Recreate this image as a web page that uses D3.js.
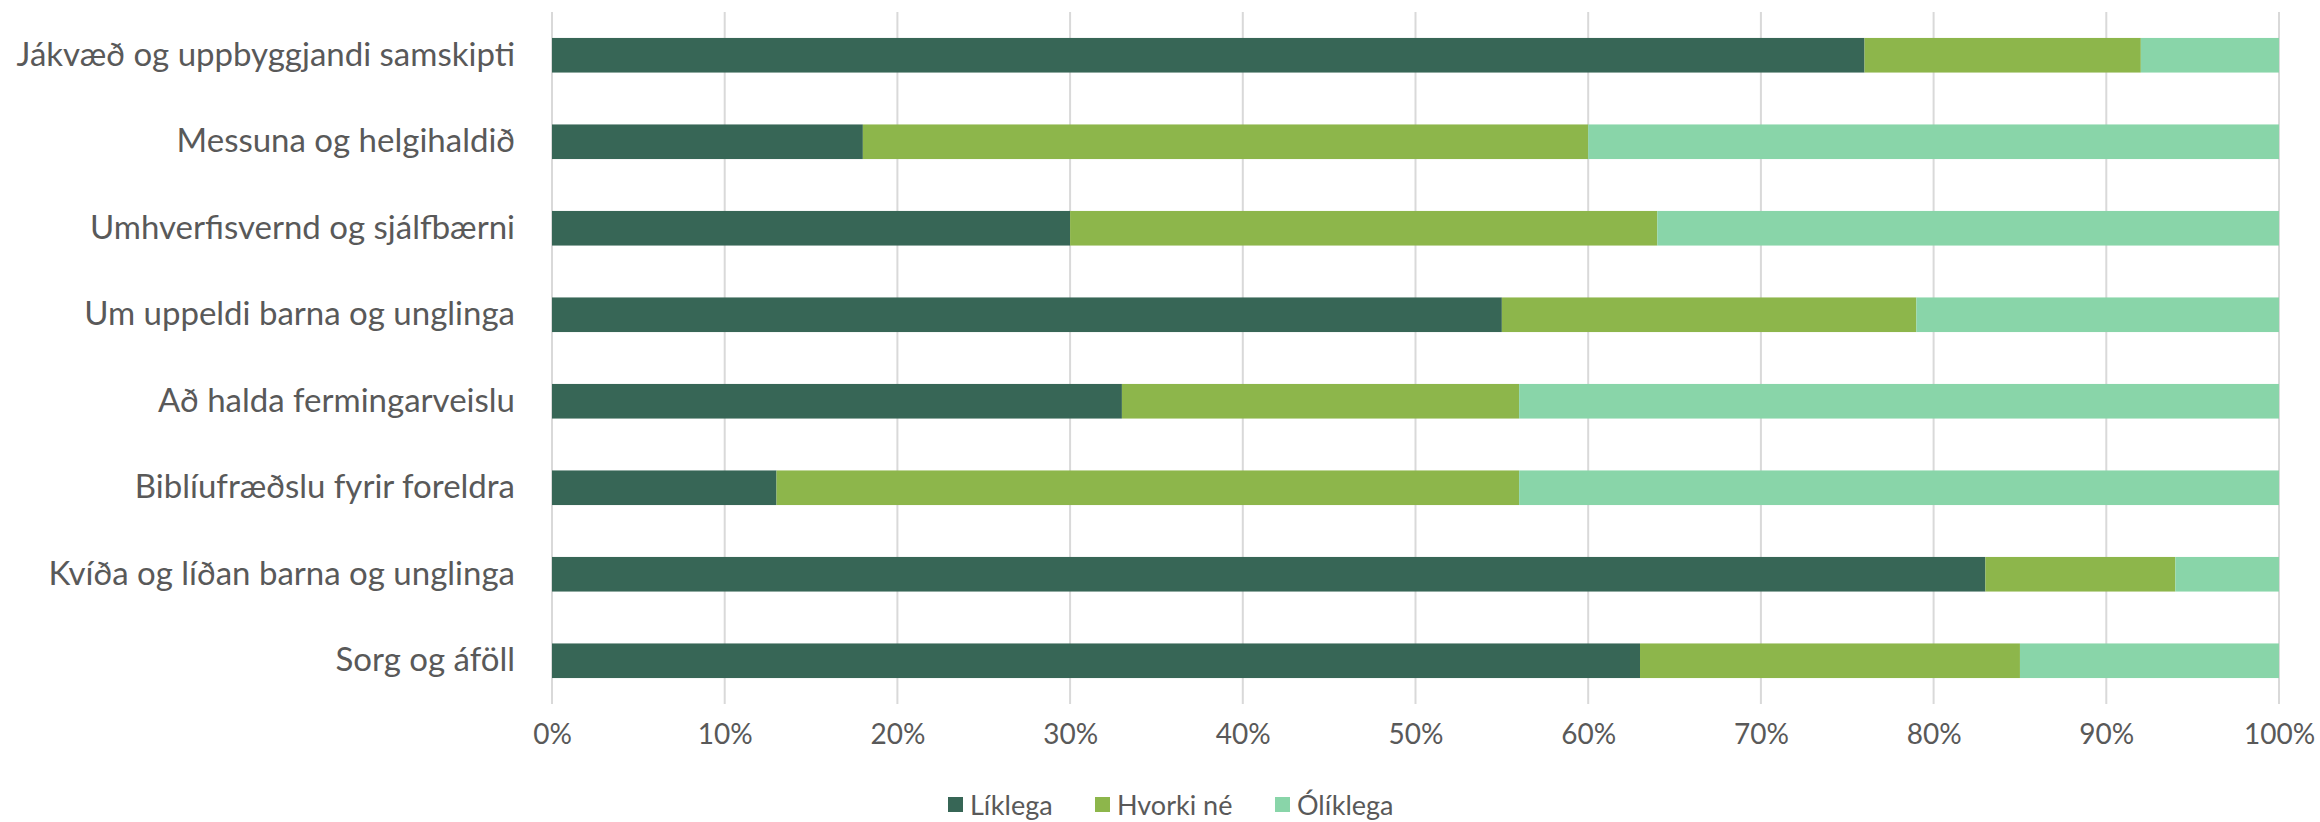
<!DOCTYPE html>
<html>
<head>
<meta charset="utf-8">
<script src="https://cdn.jsdelivr.net/npm/d3@7"></script>
<style>
  body { margin: 0; background: #fff; }
  text { font-family: "Lato", "Open Sans", sans-serif; fill: #595959; }
</style>
</head>
<body>
<div id="chart"></div>
<script>
// Categories, top to bottom
const categories = [
    "Jákvæð og uppbyggjandi samskipti",
    "Messuna og helgihaldið",
    "Umhverfisvernd og sjálfbærni",
    "Um uppeldi barna og unglinga",
    "Að halda fermingarveislu",
    "Biblíufræðslu fyrir foreldra",
    "Kvíða og líðan barna og unglinga",
    "Sorg og áföll"
];

// Series values (percent)
const liklega  = [76, 18, 30, 55, 33, 13, 83, 63];
const hvorki   = [16, 42, 34, 24, 23, 43, 11, 22];
const olikleg  = [ 8, 40, 36, 21, 44, 44,  6, 15];

const seriesNames = ["Líklega", "Hvorki né", "Ólíklega"];
const seriesColors = ["#376656", "#8db64b", "#89d5a9"];

const xTicks = [0, 10, 20, 30, 40, 50, 60, 70, 80, 90, 100];

// Build rows for d3.stack
const rows = categories.map((c, i) => ({
    cat: c,
    "Líklega": liklega[i],
    "Hvorki né": hvorki[i],
    "Ólíklega": olikleg[i]
}));

const W = 2320, H = 822;
const margin = { top: 12, right: 41, bottom: 118, left: 552 },
    width = W - margin.left - margin.right,
    height = H - margin.top - margin.bottom;

const svg = d3.select("#chart")
    .append("svg")
    .attr("width", W)
    .attr("height", H)
    .append("g")
    .attr("transform", `translate(${margin.left},${margin.top})`);

const x = d3.scaleLinear().domain([0, 100]).range([0, width]);

const y = d3.scaleBand()
    .domain(categories)
    .range([0, height])
    .paddingInner(0.6)
    .paddingOuter(0.3);

// Gridlines
svg.append("g")
    .selectAll("line")
    .data(xTicks)
    .enter()
    .append("line")
    .attr("x1", d => x(d))
    .attr("x2", d => x(d))
    .attr("y1", 0)
    .attr("y2", height)
    .attr("stroke", "#d9d9d9")
    .attr("stroke-width", 2);

// Stacked bars
const stacked = d3.stack().keys(seriesNames)(rows);

svg.selectAll(".series")
    .data(stacked)
    .enter()
    .append("g")
    .attr("fill", (d, i) => seriesColors[i])
    .selectAll("rect")
    .data(d => d)
    .enter()
    .append("rect")
    .attr("x", d => x(d[0]))
    .attr("y", d => y(d.data.cat))
    .attr("width", d => x(d[1]) - x(d[0]))
    .attr("height", y.bandwidth());

// Y axis labels
const yAxis = svg.append("g")
    .call(d3.axisLeft(y).tickSize(0).tickPadding(37));
yAxis.select(".domain").remove();
yAxis.selectAll("text")
    .style("font-size", "33px")
    .style("font-family", "Lato, sans-serif")
    .attr("fill", "#595959");

// X axis labels
const xAxis = svg.append("g")
    .attr("transform", `translate(0,${height})`)
    .call(d3.axisBottom(x).tickValues(xTicks).tickFormat(d => d + "%").tickSize(0).tickPadding(20));
xAxis.select(".domain").remove();
xAxis.selectAll("text")
    .style("font-size", "28px")
    .style("font-family", "Lato, sans-serif")
    .attr("fill", "#595959");

// Legend
const legendX = [948, 1095, 1275];
const legend = d3.select("svg").append("g");
seriesNames.forEach((name, i) => {
    legend.append("rect")
        .attr("x", legendX[i])
        .attr("y", 797)
        .attr("width", 15)
        .attr("height", 15)
        .attr("fill", seriesColors[i]);
    legend.append("text")
        .attr("x", legendX[i] + 22)
        .attr("y", 815)
        .style("font-size", "27px")
        .text(name);
});
</script>
</body>
</html>
